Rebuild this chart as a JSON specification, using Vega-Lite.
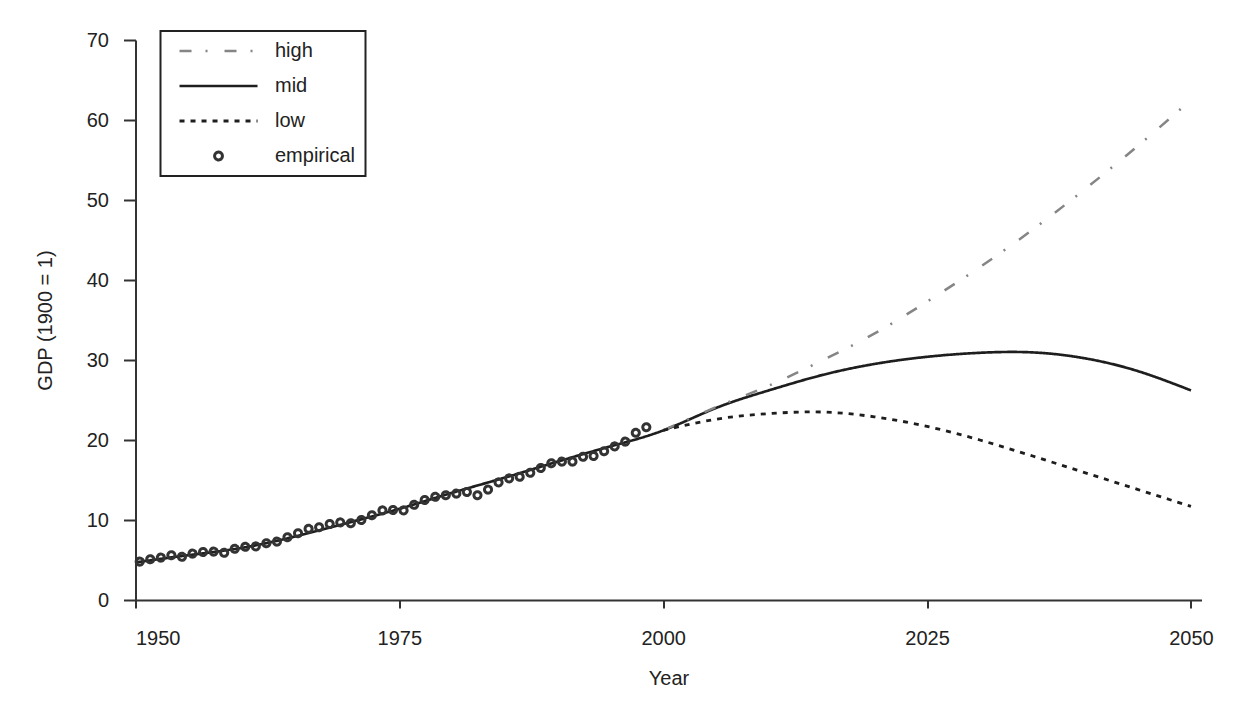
{
  "$schema": "https://vega.github.io/schema/vega-lite/v6.json",
  "width": 1066,
  "height": 560,
  "autosize": "none",
  "padding": {"left": 135.5, "top": 40, "right": 50.5, "bottom": 119},
  "background": "white",
  "config": {
    "view": {"stroke": null},
    "font": "Liberation Sans",
    "axis": {
      "grid": false,
      "domainColor": "#333333",
      "domainWidth": 2,
      "tickColor": "#333333",
      "tickWidth": 2,
      "labelFontSize": 20,
      "titleFontSize": 20,
      "labelColor": "#222222",
      "titleColor": "#222222",
      "titleFontWeight": "normal",
      "labelFont": "Liberation Sans",
      "titleFont": "Liberation Sans"
    },
    "legend": {
      "labelFontSize": 20,
      "labelColor": "#222222",
      "labelFont": "Liberation Sans",
      "strokeColor": "#222222",
      "strokeWidth": 2,
      "padding": 10,
      "labelOffset": 84.5,
      "rowPadding": 15,
      "symbolOpacity": 1
    }
  },
  "datasets": {
    "lines": [
      {"series": "mid", "year": 1950, "gdp": 4.7},
      {"series": "mid", "year": 1955, "gdp": 5.6},
      {"series": "mid", "year": 1960, "gdp": 6.5},
      {"series": "mid", "year": 1965, "gdp": 7.9},
      {"series": "mid", "year": 1970, "gdp": 9.6},
      {"series": "mid", "year": 1975, "gdp": 11.4},
      {"series": "mid", "year": 1980, "gdp": 13.4},
      {"series": "mid", "year": 1985, "gdp": 15.3},
      {"series": "mid", "year": 1990, "gdp": 17.3},
      {"series": "mid", "year": 1995, "gdp": 19.2},
      {"series": "mid", "year": 2000, "gdp": 21.2},
      {"series": "mid", "year": 2005, "gdp": 24.0},
      {"series": "mid", "year": 2010, "gdp": 26.2},
      {"series": "mid", "year": 2015, "gdp": 28.1},
      {"series": "mid", "year": 2020, "gdp": 29.5},
      {"series": "mid", "year": 2025, "gdp": 30.4},
      {"series": "mid", "year": 2030, "gdp": 30.9},
      {"series": "mid", "year": 2035, "gdp": 30.95},
      {"series": "mid", "year": 2040, "gdp": 30.2},
      {"series": "mid", "year": 2045, "gdp": 28.6},
      {"series": "mid", "year": 2050, "gdp": 26.2},
      {"series": "high", "year": 2000, "gdp": 21.2},
      {"series": "high", "year": 2005, "gdp": 24.1},
      {"series": "high", "year": 2010, "gdp": 26.8},
      {"series": "high", "year": 2015, "gdp": 29.9},
      {"series": "high", "year": 2020, "gdp": 33.3},
      {"series": "high", "year": 2025, "gdp": 37.3},
      {"series": "high", "year": 2030, "gdp": 41.6},
      {"series": "high", "year": 2035, "gdp": 46.3},
      {"series": "high", "year": 2040, "gdp": 51.4},
      {"series": "high", "year": 2045, "gdp": 56.8},
      {"series": "high", "year": 2050, "gdp": 62.5},
      {"series": "low", "year": 2000, "gdp": 21.2},
      {"series": "low", "year": 2005, "gdp": 22.6},
      {"series": "low", "year": 2010, "gdp": 23.3},
      {"series": "low", "year": 2015, "gdp": 23.5},
      {"series": "low", "year": 2020, "gdp": 22.9},
      {"series": "low", "year": 2025, "gdp": 21.7},
      {"series": "low", "year": 2030, "gdp": 20.0},
      {"series": "low", "year": 2035, "gdp": 18.0},
      {"series": "low", "year": 2040, "gdp": 15.9},
      {"series": "low", "year": 2045, "gdp": 13.8},
      {"series": "low", "year": 2050, "gdp": 11.7}
    ],
    "emp": [
      {"series": "empirical", "year": 1950.4, "gdp": 4.8},
      {"series": "empirical", "year": 1951.4, "gdp": 5.1},
      {"series": "empirical", "year": 1952.4, "gdp": 5.3},
      {"series": "empirical", "year": 1953.4, "gdp": 5.6},
      {"series": "empirical", "year": 1954.4, "gdp": 5.4},
      {"series": "empirical", "year": 1955.4, "gdp": 5.8},
      {"series": "empirical", "year": 1956.4, "gdp": 6.0},
      {"series": "empirical", "year": 1957.4, "gdp": 6.05},
      {"series": "empirical", "year": 1958.4, "gdp": 5.9},
      {"series": "empirical", "year": 1959.4, "gdp": 6.4},
      {"series": "empirical", "year": 1960.4, "gdp": 6.65},
      {"series": "empirical", "year": 1961.4, "gdp": 6.7},
      {"series": "empirical", "year": 1962.4, "gdp": 7.1},
      {"series": "empirical", "year": 1963.4, "gdp": 7.3},
      {"series": "empirical", "year": 1964.4, "gdp": 7.85},
      {"series": "empirical", "year": 1965.4, "gdp": 8.35},
      {"series": "empirical", "year": 1966.4, "gdp": 8.9},
      {"series": "empirical", "year": 1967.4, "gdp": 9.1},
      {"series": "empirical", "year": 1968.4, "gdp": 9.5},
      {"series": "empirical", "year": 1969.4, "gdp": 9.7},
      {"series": "empirical", "year": 1970.4, "gdp": 9.6},
      {"series": "empirical", "year": 1971.4, "gdp": 10.0},
      {"series": "empirical", "year": 1972.4, "gdp": 10.6},
      {"series": "empirical", "year": 1973.4, "gdp": 11.2},
      {"series": "empirical", "year": 1974.4, "gdp": 11.25},
      {"series": "empirical", "year": 1975.4, "gdp": 11.2},
      {"series": "empirical", "year": 1976.4, "gdp": 11.9},
      {"series": "empirical", "year": 1977.4, "gdp": 12.5},
      {"series": "empirical", "year": 1978.4, "gdp": 12.9},
      {"series": "empirical", "year": 1979.4, "gdp": 13.1},
      {"series": "empirical", "year": 1980.4, "gdp": 13.3},
      {"series": "empirical", "year": 1981.4, "gdp": 13.5},
      {"series": "empirical", "year": 1982.4, "gdp": 13.1},
      {"series": "empirical", "year": 1983.4, "gdp": 13.8},
      {"series": "empirical", "year": 1984.4, "gdp": 14.7},
      {"series": "empirical", "year": 1985.4, "gdp": 15.2},
      {"series": "empirical", "year": 1986.4, "gdp": 15.4},
      {"series": "empirical", "year": 1987.4, "gdp": 15.9},
      {"series": "empirical", "year": 1988.4, "gdp": 16.5},
      {"series": "empirical", "year": 1989.4, "gdp": 17.1},
      {"series": "empirical", "year": 1990.4, "gdp": 17.3},
      {"series": "empirical", "year": 1991.4, "gdp": 17.3},
      {"series": "empirical", "year": 1992.4, "gdp": 17.9},
      {"series": "empirical", "year": 1993.4, "gdp": 18.0},
      {"series": "empirical", "year": 1994.4, "gdp": 18.6},
      {"series": "empirical", "year": 1995.4, "gdp": 19.2},
      {"series": "empirical", "year": 1996.4, "gdp": 19.8},
      {"series": "empirical", "year": 1997.4, "gdp": 20.9},
      {"series": "empirical", "year": 1998.4, "gdp": 21.6}
    ]
  },
  "encoding": {
    "x": {
      "field": "year", "type": "quantitative",
      "scale": {"domain": [1950, 2051], "nice": false, "zero": false},
      "axis": {"title": "Year", "values": [1950, 1975, 2000, 2025, 2050], "format": "d", "tickSize": 8, "labelPadding": 20, "titlePadding": 20}
    },
    "y": {
      "field": "gdp", "type": "quantitative",
      "scale": {"domain": [0, 70], "nice": false},
      "axis": {"title": "GDP (1900 = 1)", "values": [0, 10, 20, 30, 40, 50, 60, 70], "tickSize": 12, "labelPadding": 15, "titlePadding": 31}
    },
    "color": {
      "field": "series", "type": "nominal",
      "scale": {"domain": ["high", "mid", "low", "empirical"], "range": ["#858585", "#1e1e1e", "#1e1e1e", "#333333"]},
      "legend": {"title": null, "orient": "none", "legendX": 25, "legendY": -9}
    },
    "strokeDash": {
      "field": "series", "type": "nominal",
      "scale": {"domain": ["high", "mid", "low", "empirical"], "range": [[12, 14, 2, 17], [1, 0], [5, 6], [1, 0]]},
      "legend": {"title": null, "orient": "none", "legendX": 25, "legendY": -9}
    },
    "strokeWidth": {
      "field": "series", "type": "nominal",
      "scale": {"domain": ["high", "mid", "low", "empirical"], "range": [2.5, 3, 2.5, 2]},
      "legend": {"title": null, "orient": "none", "legendX": 25, "legendY": -9}
    }
  },
  "layer": [
    {
      "data": {"name": "lines"},
      "mark": {"type": "line", "interpolate": "natural"}
    },
    {
      "data": {"name": "emp"},
      "mark": {"type": "point", "filled": false, "opacity": 1, "shape": "circle", "size": 50}
    },
    {
      "data": {"name": "emp"},
      "transform": [{"filter": "false"}],
      "mark": {"type": "point", "filled": false, "opacity": 1},
      "encoding": {
        "shape": {
          "field": "series", "type": "nominal",
          "scale": {"domain": ["high", "mid", "low", "empirical"], "range": ["M-0.15,0H11.85", "M-0.15,0H11.85", "M-0.15,0H11.85", "M5.25,0A0.6,0.6 0 1,1 6.45,0A0.6,0.6 0 1,1 5.25,0Z"]},
          "legend": {"title": null, "orient": "none", "legendX": 25, "legendY": -9}
        },
        "size": {
          "field": "series", "type": "nominal",
          "scale": {"type": "ordinal", "domain": ["high", "mid", "low", "empirical"], "range": [169, 169, 169, 169]},
          "legend": {"title": null, "orient": "none", "legendX": 25, "legendY": -9}
        }
      }
    }
  ]
}
